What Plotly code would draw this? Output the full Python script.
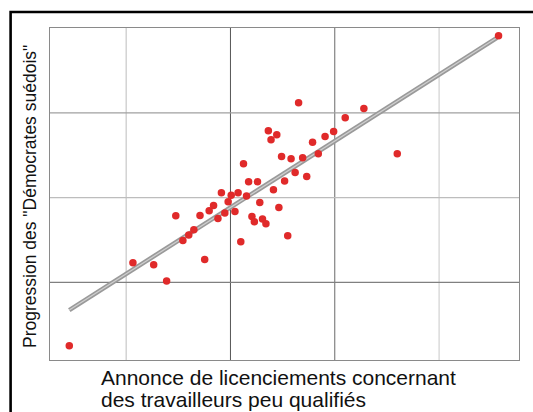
import plotly.graph_objects as go

# Data (arbitrary units; gridlines at integer values)
layoffs = [4.570, 2.653, 3.279, 3.100, 2.989, 2.907, 2.787, 2.842, 3.599, 2.363,
           2.444, 2.389, 2.490, 2.581, 2.692, 2.620, 2.731, 2.519, 2.125, 2.174,
           2.259, 2.412, 1.913, 2.007, 2.073, 2.154, 1.978, 2.281, 1.838, 1.796,
           1.708, 1.476, 1.946, 2.043, 1.880, 2.464, 2.206, 2.229, 2.307, 2.340,
           1.649, 1.600, 1.544, 2.549, 2.099, 1.753, 1.065, 1.264, 1.388, 0.455]
sd_progress = [3.908, 3.118, 3.051, 2.941, 2.780, 2.721, 2.654, 2.517, 2.517, 2.788,
               2.741, 2.682, 2.485, 2.458, 2.470, 2.297, 2.250, 2.195, 2.399, 2.187,
               2.187, 2.092, 2.057, 2.029, 2.057, 2.018, 1.951, 1.943, 1.908, 1.845,
               1.790, 1.786, 1.817, 1.837, 1.754, 1.884, 1.778, 1.715, 1.747, 1.692,
               1.621, 1.558, 1.495, 1.550, 1.479, 1.271, 1.232, 1.208, 1.016, 0.253]
fit_x = [0.455, 4.554]
fit_y = [0.674, 3.884]

x_grid = [1, 2, 3, 4]
x_grid_colors = ["#bdbdbd", "#555555", "#6a6a6a", "#c8c8c8"]
y_grid = [1, 2, 3]
y_grid_colors = ["#808080", "#bdbdbd", "#a0a0a0"]

x_title_lines = ["Annonce de licenciements concernant", "des travailleurs peu qualifiés"]
y_title = 'Progression des "Démocrates suédois"'

fig = go.Figure()
fig.add_trace(go.Scatter(x=fit_x, y=fit_y, mode="lines",
                         line=dict(color="#9a9a9a", width=4.5), hoverinfo="skip"))
fig.add_trace(go.Scatter(x=fit_x, y=fit_y, mode="lines",
                         line=dict(color="#cfcfcf", width=1.2), hoverinfo="skip"))
fig.add_trace(go.Scatter(x=layoffs, y=sd_progress, mode="markers",
                         marker=dict(color="#e02a2a", size=7.5, line=dict(width=0))))

PW, PH = 469.0, 332.0  # plot area size in px

shapes = []
for v, c in zip(x_grid, x_grid_colors):
    shapes.append(dict(type="line", xref="x", yref="paper", x0=v, x1=v, y0=0, y1=1,
                       line=dict(color=c, width=1), layer="below"))
for v, c in zip(y_grid, y_grid_colors):
    shapes.append(dict(type="line", xref="paper", yref="y", x0=0, x1=1, y0=v, y1=v,
                       line=dict(color=c, width=1.2), layer="below"))
# outer black frame (top & left visible)
shapes.append(dict(type="path", xref="paper", yref="paper",
                   path="M -0.084,-0.3 L -0.084,1.048 L 1.2,1.048",
                   line=dict(color="#000000", width=2.6)))

fig.update_layout(
    width=533, height=412,
    margin=dict(l=50, r=14, t=28, b=52),
    paper_bgcolor="white", plot_bgcolor="white",
    showlegend=False,
    shapes=shapes,
    font=dict(family="Liberation Sans, Arial, sans-serif", color="#111111"),
    xaxis=dict(range=[0.270, 4.766], tickvals=x_grid, showticklabels=False,
               showgrid=False, zeroline=False, showline=True, mirror=True,
               linecolor="#8a8a8a", linewidth=1.2, ticks=""),
    yaxis=dict(range=[0.085, 4.0], tickvals=y_grid, showticklabels=False,
               showgrid=False, zeroline=False, showline=True, mirror=True,
               linecolor="#8a8a8a", linewidth=1.2, ticks=""),
    annotations=[
        dict(text=x_title_lines[0], xref="paper", yref="paper",
             x=(99 - 50) / PW, y=-(377 - 360) / PH, xanchor="left", yanchor="middle",
             showarrow=False, font=dict(size=21, color="#111111")),
        dict(text=x_title_lines[1], xref="paper", yref="paper",
             x=(99 - 50) / PW, y=-(399.5 - 360) / PH, xanchor="left", yanchor="middle",
             showarrow=False, font=dict(size=21, color="#111111")),
        dict(text=y_title, xref="paper", yref="paper",
             x=(30 - 50) / PW, y=(360 - 197) / PH, xanchor="center", yanchor="middle",
             textangle=-90, showarrow=False,
             font=dict(size=17.5, color="#111111")),
    ],
)

fig.write_html("out.html", config={"displayModeBar": False},
               post_script="document.body.style.margin='0';")
